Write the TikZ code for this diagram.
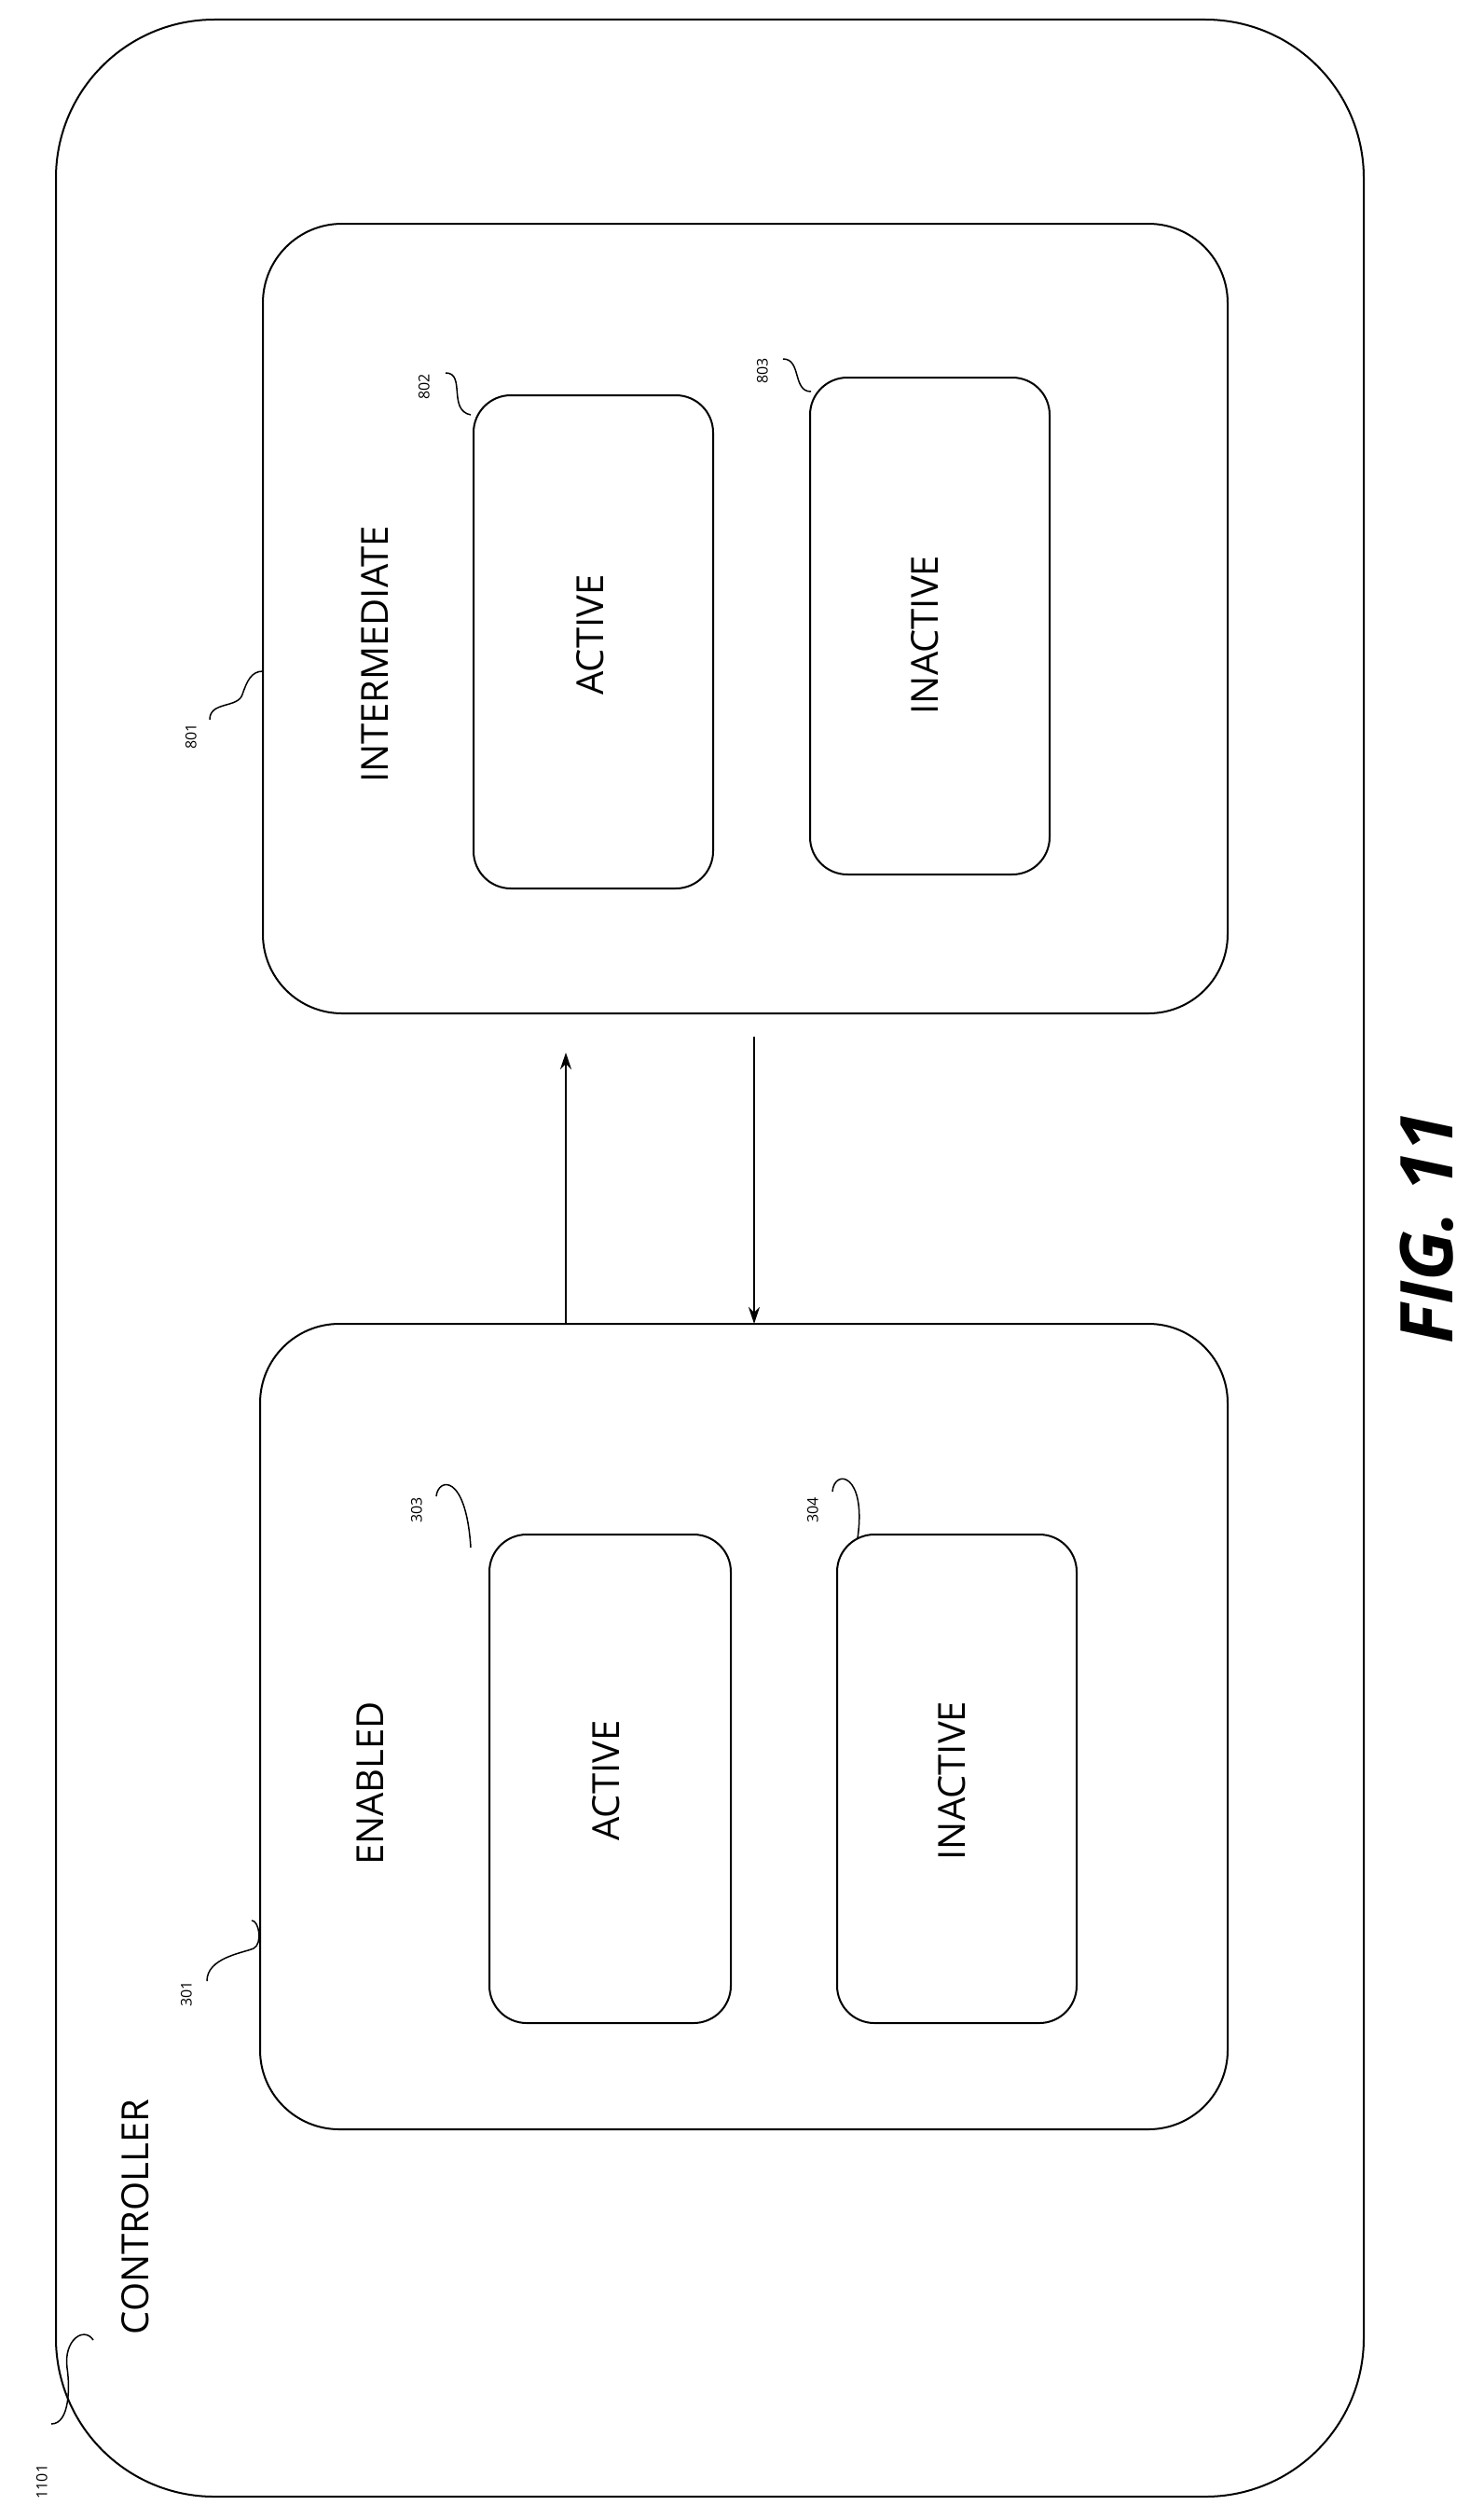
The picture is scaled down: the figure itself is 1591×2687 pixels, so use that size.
\documentclass[tikz,border=0pt]{standalone}
\usepackage{fontspec}
\setmainfont{Open Sans}
\usetikzlibrary{arrows.meta}
\begin{document}
\begin{tikzpicture}[x=1pt,y=-1pt,
  box/.style={draw,line width=2pt},
  lbl/.style={font=\fontsize{40}{48}\selectfont,rotate=90},
  num/.style={font=\fontsize{16}{18}\selectfont,rotate=90},
  lead/.style={line width=1.5pt},
  arr/.style={line width=2.5pt,-{Stealth[length=18pt,width=12pt]}}]
\useasboundingbox (0,0) rectangle (1591,2687);
\draw[box,rounded corners=170pt] (60,21) rectangle (1463,2678);
\draw[box,rounded corners=85pt] (282,240) rectangle (1317,1087);
\draw[box,rounded corners=40pt] (508,424) rectangle (765,953);
\draw[box,rounded corners=40pt] (869,405) rectangle (1126,938);
\draw[box,rounded corners=85pt] (279,1420) rectangle (1317,2284);
\draw[box,rounded corners=40pt] (525,1646) rectangle (784,2170);
\draw[box,rounded corners=40pt] (898,1646) rectangle (1155,2170);
\coordinate (iu) at (607,1420); \coordinate (iut) at (607,1129);
\coordinate (dd) at (809,1112); \coordinate (ddt) at (809,1420);
\draw[arr] (iu) -- (iut);
\draw[arr] (dd) -- (ddt);
\node[lbl] (tI) at (402,702) {INTERMEDIATE};
\node[lbl] (tA1) at (633,681) {ACTIVE};
\node[lbl] (tN1) at (992,681) {INACTIVE};
\node[lbl] (tE) at (397,1913) {ENABLED};
\node[lbl] (tA2) at (650,1910) {ACTIVE};
\node[lbl] (tN2) at (1021,1910) {INACTIVE};
\node[lbl] (tC) at (145,2378) {CONTROLLER};
\node[rotate=90,font=\fontsize{78}{90}\selectfont\bfseries\itshape] (fig) at (1531,1317) {FIG. 11};
\node[num] (n1101) at (45,2662) {1101};
\node[num] (n301) at (200,2139) {301};
\node[num] (n303) at (447,1620) {303};
\node[num] (n304) at (872,1620) {304};
\node[num] (n801) at (205,790) {801};
\node[num] (n802) at (455,415) {802};
\node[num] (n803) at (818,398) {803};
\draw[lead] (55,2600) .. controls (75,2600) and (75,2560) .. (72,2540) .. controls (68,2510) and (90,2495) .. (100,2510);
\draw[lead] (222,2125) .. controls (222,2100) and (260,2095) .. (272,2090) .. controls (282,2085) and (278,2060) .. (270,2060);
\draw[lead] (468,1605) .. controls (470,1585) and (500,1580) .. (505,1660) ;
\draw[lead] (893,1600) .. controls (895,1575) and (930,1580) .. (920,1650);
\draw[lead] (225,772) .. controls (225,752) and (255,760) .. (260,745) .. controls (265,730) and (270,720) .. (282,720);
\draw[lead] (478,400) .. controls (500,400) and (480,440) .. (505,445);
\draw[lead] (840,385) .. controls (860,385) and (850,420) .. (870,420);
\end{tikzpicture}
\end{document}
